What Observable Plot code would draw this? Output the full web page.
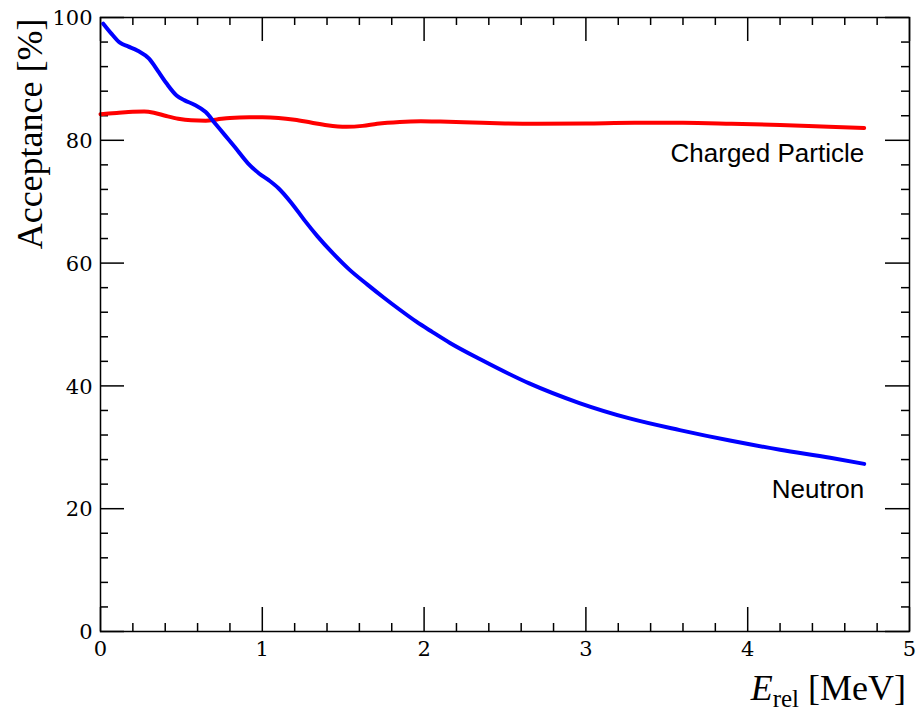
<!DOCTYPE html>
<html><head><meta charset="utf-8">
<script src="https://cdn.jsdelivr.net/npm/d3@7"></script>
<script src="https://cdn.jsdelivr.net/npm/@observablehq/plot@0.6"></script>
<style>body{margin:0;background:#fff} svg{display:block}</style>
</head><body><div id="chart"></div>
<script>
// Neutron acceptance (blue)
const neutronE   = [0.017, 0.07, 0.12, 0.17, 0.23, 0.30, 0.36, 0.41, 0.47, 0.52, 0.58, 0.65, 0.71, 0.77, 0.83, 0.91, 0.98, 1.04, 1.10, 1.18, 1.26, 1.34, 1.44, 1.54, 1.65, 1.75, 1.85, 1.95, 2.05, 2.16, 2.35, 2.65, 2.96, 3.27, 3.58, 3.89, 4.20, 4.51, 4.72];
const neutronAcc = [99.0, 97.3, 95.9, 95.3, 94.6, 93.3, 91.1, 89.2, 87.3, 86.5, 85.8, 84.6, 82.7, 80.8, 78.9, 76.3, 74.6, 73.5, 72.2, 69.8, 67.0, 64.4, 61.5, 58.9, 56.5, 54.4, 52.4, 50.5, 48.8, 47.0, 44.3, 40.4, 37.2, 34.7, 32.8, 31.1, 29.6, 28.3, 27.3];
// Charged particle acceptance (red)
const chargedE   = [0.0, 0.1, 0.2, 0.27, 0.33, 0.40, 0.48, 0.56, 0.65, 0.72, 0.8, 0.92, 1.0, 1.1, 1.2, 1.3, 1.4, 1.52, 1.62, 1.71, 1.85, 1.98, 2.1, 2.3, 2.5, 2.7, 3.0, 3.3, 3.6, 3.9, 4.2, 4.5, 4.72];
const chargedAcc = [84.25, 84.45, 84.65, 84.7, 84.5, 84.0, 83.5, 83.25, 83.2, 83.4, 83.65, 83.75, 83.75, 83.65, 83.35, 82.9, 82.45, 82.2, 82.35, 82.7, 83.0, 83.1, 83.05, 82.9, 82.75, 82.7, 82.75, 82.85, 82.85, 82.7, 82.5, 82.2, 82.0];

const xMajor = [0, 1, 2, 3, 4, 5];
const yMajor = [0, 20, 40, 60, 80, 100];
const xMinor = [0.2,0.4,0.6,0.8,1.2,1.4,1.6,1.8,2.2,2.4,2.6,2.8,3.2,3.4,3.6,3.8,4.2,4.4,4.6,4.8];
const yMinor = [4,8,12,16,24,28,32,36,44,48,52,56,64,68,72,76,84,88,92,96];

const curveLabels = [
  {text: "Charged Particle", x: 4.72, y: 77.8},
  {text: "Neutron", x: 4.72, y: 23.1}
];
const yTitle = "Acceptance [%]";

const neutron = neutronE.map((e, i) => ({e, a: neutronAcc[i]}));
const charged = chargedE.map((e, i) => ({e, a: chargedAcc[i]}));

const W = 919, H = 711, mL = 100, mR = 10, mT = 17, mB = 80;
const pw = W - mL - mR, ph = H - mT - mB;
const MAJ = 24, MIN = 8;
const tickStyle = {stroke: "black", strokeWidth: 1.5};
const tickFont = {fontSize: 21, fontFamily: "DejaVu Serif", fill: "black"};

const plot = Plot.plot({
  width: W, height: H,
  marginLeft: mL, marginRight: mR, marginTop: mT, marginBottom: mB,
  style: {background: "white"},
  x: {domain: [0, 5], axis: null},
  y: {domain: [0, 100], axis: null},
  marks: [
    Plot.ruleX(xMajor, {...tickStyle, insetTop: ph - MAJ}),
    Plot.ruleX(xMajor, {...tickStyle, insetBottom: ph - MAJ}),
    Plot.ruleX(xMinor, {...tickStyle, insetTop: ph - MIN}),
    Plot.ruleX(xMinor, {...tickStyle, insetBottom: ph - MIN}),
    Plot.ruleY(yMajor, {...tickStyle, insetRight: pw - MAJ}),
    Plot.ruleY(yMajor, {...tickStyle, insetLeft: pw - MAJ}),
    Plot.ruleY(yMinor, {...tickStyle, insetRight: pw - MIN}),
    Plot.ruleY(yMinor, {...tickStyle, insetLeft: pw - MIN}),
    Plot.text(xMajor, {x: d => d, frameAnchor: "bottom", dy: 24, text: d => String(d), ...tickFont}),
    Plot.text(yMajor, {y: d => d, frameAnchor: "left", dx: -8, dy: 1, textAnchor: "end", text: d => String(d), ...tickFont}),
    Plot.lineY(charged, {x: "e", y: "a", stroke: "#ff0000", strokeWidth: 4, curve: "monotone-x"}),
    Plot.lineY(neutron, {x: "e", y: "a", stroke: "#0000ff", strokeWidth: 4, curve: "monotone-x"}),
    Plot.text(curveLabels, {x: "x", y: "y", text: "text", textAnchor: "end", fontSize: 26, fontFamily: "Liberation Sans", fill: "black"}),
    Plot.text([yTitle], {frameAnchor: "top-left", rotate: -90, textAnchor: "end", dx: -84, dy: 1, fontSize: 36, fontFamily: "Liberation Serif", fill: "black"}),
    Plot.frame({stroke: "black", strokeWidth: 1.5})
  ]
});

// x-axis title with subscript: E_rel [MeV]
const xs = plot.scale("x");
const svg = d3.select(plot);
const t = svg.append("text")
  .attr("x", xs.apply(5) - 3)
  .attr("y", H - 11)
  .attr("text-anchor", "end")
  .attr("font-family", "Liberation Serif")
  .attr("font-size", 36)
  .attr("fill", "black");
t.append("tspan").attr("font-style", "italic").text("E");
t.append("tspan").attr("font-size", 25).attr("dy", 7).text("rel");
t.append("tspan").attr("dy", -7).text(" [MeV]");

document.getElementById("chart").appendChild(plot);
</script>
</body></html>
